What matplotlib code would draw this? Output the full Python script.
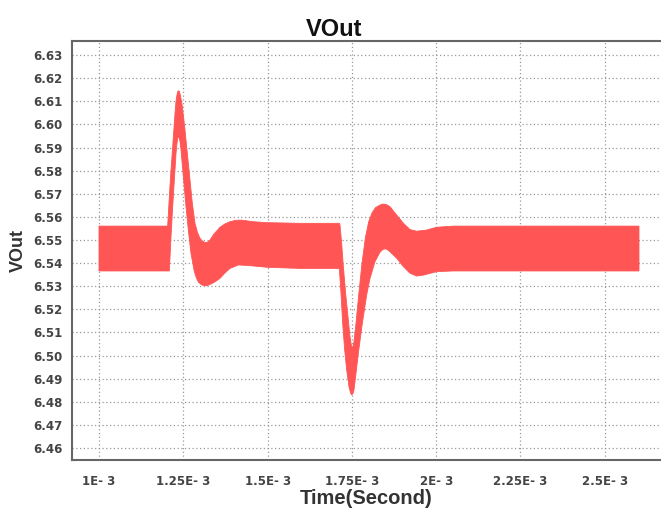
import numpy as np
import matplotlib
matplotlib.use('Agg')
import matplotlib.pyplot as plt

# 上包络 (时间 ms, 电压 V)
t_upper = [1.0, 1.2036, 1.2115, 1.2185, 1.2254, 1.2280, 1.2303, 1.2330, 1.2353,
           1.2380, 1.2412, 1.2440, 1.2471, 1.2550, 1.2630, 1.2699, 1.2768, 1.2847,
           1.2920, 1.2995, 1.3070, 1.3144, 1.3220, 1.3292, 1.3400, 1.3588, 1.3740,
           1.3885, 1.4050, 1.4231, 1.4577, 1.4972, 1.5961, 1.7127, 1.7147, 1.7197,
           1.7246, 1.7315, 1.7384, 1.7444, 1.7480, 1.7503, 1.7530, 1.7562, 1.7612,
           1.7700, 1.7800, 1.7900, 1.8000, 1.8100, 1.8200, 1.8333, 1.8400, 1.8462,
           1.8540, 1.8630, 1.8828, 1.9025, 1.9223, 1.9421, 1.9718, 2.0014, 2.0508,
           2.6014]
v_upper = [6.5560, 6.5560, 6.5759, 6.5904, 6.6048, 6.6095, 6.6120, 6.6140, 6.6146,
           6.6143, 6.6127, 6.6105, 6.6077, 6.5976, 6.5860, 6.5759, 6.5658, 6.5572,
           6.5533, 6.5507, 6.5495, 6.5489, 6.5491, 6.5500, 6.5524, 6.5555, 6.5570,
           6.5579, 6.5585, 6.5586, 6.5579, 6.5575, 6.5572, 6.5572, 6.5565, 6.5485,
           6.5385, 6.5269, 6.5168, 6.5082, 6.5048, 6.5033, 6.5038, 6.5060, 6.5125,
           6.5260, 6.5400, 6.5510, 6.5580, 6.5618, 6.5640, 6.5651, 6.5655, 6.5655,
           6.5652, 6.5644, 6.5608, 6.5573, 6.5545, 6.5538, 6.5543, 6.5555, 6.5560,
           6.5560]

# 下包络
t_lower = [1.0, 1.2086, 1.2135, 1.2185, 1.2234, 1.2284, 1.2310, 1.2333, 1.2352,
           1.2372, 1.2400, 1.2432, 1.2501, 1.2580, 1.2649, 1.2728, 1.2827, 1.2890,
           1.2946, 1.3020, 1.3094, 1.3200, 1.3300, 1.3430, 1.3588, 1.3740, 1.3885,
           1.4132, 1.4478, 1.4972, 1.5961, 1.7127, 1.7177, 1.7226, 1.7286, 1.7345,
           1.7414, 1.7460, 1.7493, 1.7530, 1.7562, 1.7622, 1.7691, 1.7810, 1.7938,
           1.8037, 1.8185, 1.8333, 1.8410, 1.8482, 1.8560, 1.8630, 1.8828, 1.9025,
           1.9223, 1.9421, 1.9619, 2.0014, 2.0508, 2.6014]
v_lower = [6.5366, 6.5366, 6.5514, 6.5644, 6.5759, 6.5875, 6.5915, 6.5938, 6.5946,
           6.5945, 6.5928, 6.5889, 6.5774, 6.5644, 6.5543, 6.5442, 6.5363, 6.5335,
           6.5318, 6.5308, 6.5303, 6.5302, 6.5308, 6.5318, 6.5334, 6.5358, 6.5377,
           6.5392, 6.5389, 6.5382, 6.5377, 6.5377, 6.5269, 6.5139, 6.5024, 6.4938,
           6.4865, 6.4838, 6.4830, 6.4835, 6.4851, 6.4923, 6.5010, 6.5140, 6.5262,
           6.5334, 6.5406, 6.5447, 6.5458, 6.5462, 6.5458, 6.5449, 6.5421, 6.5385,
           6.5356, 6.5344, 6.5348, 6.5363, 6.5366, 6.5366]

x_ticks = [1.0, 1.25, 1.5, 1.75, 2.0, 2.25, 2.5]
x_tick_labels = ['1E- 3', '1.25E- 3', '1.5E- 3', '1.75E- 3', '2E- 3', '2.25E- 3', '2.5E- 3']
y_ticks = [6.46, 6.47, 6.48, 6.49, 6.50, 6.51, 6.52, 6.53, 6.54, 6.55,
           6.56, 6.57, 6.58, 6.59, 6.60, 6.61, 6.62, 6.63]

fig = plt.figure(figsize=(6.61, 5.12), dpi=100)
ax = fig.add_axes([72 / 661, 1 - 460 / 512, 589 / 661, 419 / 512])

# 纹波带: 上包络正向 + 下包络反向 组成多边形
tu = np.array(t_upper) * 1e-3
tl = np.array(t_lower) * 1e-3
xs = np.concatenate([tu, tl[::-1]])
ys = np.concatenate([v_upper, v_lower[::-1]])
ax.fill(xs, ys, color='#ff5555', lw=0.6, ec='#ff5555', zorder=3)

ax.set_xlim(0.9199e-3, 2.6667e-3)
ax.set_ylim(6.4548, 6.6361)

ax.set_xticks(np.array(x_ticks) * 1e-3)
ax.set_xticklabels(x_tick_labels)
ax.set_yticks(y_ticks)
ax.set_yticklabels(['%.2f' % v for v in y_ticks])

for lab in ax.get_xticklabels() + ax.get_yticklabels():
    lab.set_fontfamily('DejaVu Sans')
    lab.set_fontweight('bold')
    lab.set_fontsize(8.5)
    lab.set_color('#444444')
ax.tick_params(axis='x', length=0, pad=11)
ax.tick_params(axis='y', length=0, pad=7)

ax.grid(True, color='#999999', lw=0.9, linestyle=(0, (1, 2)))
ax.set_axisbelow(True)

for side in ['left', 'bottom', 'top']:
    ax.spines[side].set_color('#666666')
    ax.spines[side].set_linewidth(1.5)
ax.spines['right'].set_visible(False)

ax.set_xlabel('Time(Second)', family='Liberation Sans', weight='bold',
              size=14.5, color='#333333', labelpad=0.5)
ax.set_ylabel('VOut', family='Liberation Sans', weight='bold',
              size=13, color='#333333', labelpad=4)
fig.text(334 / 661, 1 - 36 / 512, 'VOut', family='Liberation Sans', weight='bold',
         size=17, color='#111111', ha='center', va='baseline')

fig.savefig('out.png', dpi=100)
